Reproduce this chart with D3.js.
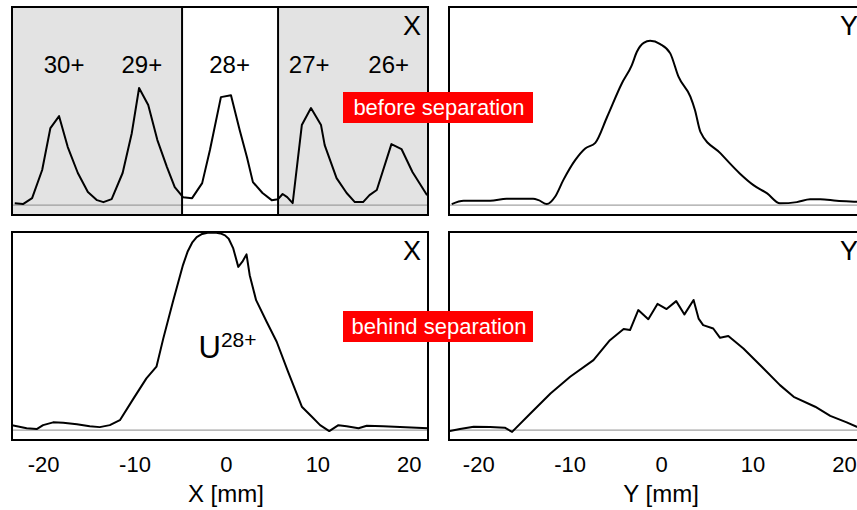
<!DOCTYPE html>
<html>
<head>
<meta charset="utf-8">
<script src="https://cdn.jsdelivr.net/npm/d3@7"></script>
<style>
  body { margin: 0; background: #fff; }
  svg { display: block; font-family: "Liberation Sans", Arial, sans-serif; }
</style>
</head>
<body>
<svg id="chart" width="857" height="510"></svg>
<script>
// profiles: [position in mm, intensity in arbitrary units]
const beforeX = [
  [-23.1, 0.9], [-22.2, 0.5], [-21.2, 3.5], [-20.1, 17.7], [-19.2, 38.9], [-18.25, 44.9],
  [-17.3, 29.3], [-16.2, 16.2], [-15.1, 6.6], [-14.1, 2.5], [-13.4, 1.5], [-12.5, 3.0],
  [-11.3, 16.2], [-10.3, 36.3], [-9.5, 59.1], [-8.5, 50.5], [-7.5, 32.8], [-6.45, 19.2],
  [-5.6, 9.1], [-4.7, 4.0], [-3.7, 3.5], [-2.6, 11.1], [-1.75, 27.8], [-0.55, 54.5],
  [0.55, 55.5], [1.5, 37.9], [2.3, 24.2], [2.95, 11.6], [4.0, 6.1], [5.0, 2.5],
  [5.7, 3.0], [6.2, 5.6], [6.7, 4.0], [7.3, 1.0], [8.3, 40.4], [9.3, 49.0],
  [10.4, 40.4], [10.8, 30.3], [12.1, 13.6], [13.2, 6.1], [14.1, 1.5], [15.0, 1.5],
  [15.7, 5.0], [16.5, 7.6], [18.1, 30.8], [19.2, 28.3], [20.4, 16.7], [22.0, 5.0]
];
const beforeY = [
  [-22.9, 0.5], [-21.6, 2.2], [-18.7, 2.2], [-16.9, 3.2], [-14.0, 3.2], [-13.4, 2.5],
  [-12.5, 0.5], [-11.6, 4.2], [-10.7, 12.6], [-9.4, 22.7], [-8.3, 28.6], [-7.2, 31.4],
  [-5.9, 44.6], [-4.3, 61.4], [-3.2, 70.7], [-2.65, 77.4], [-1.9, 81.9], [-1.2, 82.9],
  [-0.1, 81.3], [1.0, 76.6], [1.9, 64.8], [3.2, 54.7], [3.7, 48.0], [4.3, 37.0],
  [6.5, 26.1], [8.6, 16.0], [10.1, 10.1], [11.6, 5.9], [13.0, 0.9], [14.85, 1.5],
  [16.3, 2.9], [17.4, 2.9], [19.2, 2.2], [21.4, 1.7], [22.3, 1.5]
];
const behindX = [
  [-23.4, 2.5], [-21.8, 0.9], [-20.7, 0.5], [-20.0, 2.5], [-18.9, 3.9], [-17.8, 3.7],
  [-16.3, 2.9], [-14.9, 1.9], [-13.8, 1.5], [-12.7, 2.5], [-11.6, 5.0], [-10.1, 16.0],
  [-8.7, 26.1], [-7.6, 32.0], [-6.85, 46.3], [-5.8, 64.8], [-4.7, 83.3], [-4.2, 90.0],
  [-3.7, 94.6], [-3.2, 97.4], [-2.6, 99.0], [-2.0, 99.6], [-1.2, 99.7], [-0.6, 99.3],
  [-0.1, 98.3], [0.3, 96.6], [0.8, 91.7], [1.35, 82.4], [1.8, 85.0], [2.25, 88.7],
  [2.6, 78.2], [3.3, 65.6], [4.45, 54.7], [5.55, 44.6], [6.8, 29.4], [8.3, 11.8],
  [9.4, 6.7], [10.3, 2.5], [11.3, -0.5], [12.3, 2.5], [13.2, 1.9], [14.5, 0.9],
  [15.4, 2.2], [17.2, 1.9], [22.1, 0.9]
];
const behindY = [
  [-23.1, -0.5], [-22.0, 0.5], [-20.5, 1.7], [-18.7, 1.5], [-17.1, 1.2], [-16.3, -0.9],
  [-14.3, 8.4], [-12.1, 18.5], [-9.95, 26.9], [-7.4, 35.3], [-5.6, 45.4], [-4.1, 51.0],
  [-3.4, 50.5], [-2.5, 60.6], [-1.4, 56.0], [-0.4, 63.7], [0.6, 61.1], [1.65, 65.1],
  [2.55, 58.4], [3.55, 65.7], [4.1, 56.3], [4.6, 53.0], [5.7, 51.3], [6.45, 46.6],
  [7.35, 47.5], [9.0, 41.2], [11.2, 31.1], [13.0, 22.7], [14.5, 16.8], [16.85, 11.8],
  [18.5, 7.2], [20.3, 3.9], [21.4, 1.7], [22.3, 1.0]
];

const chargeLabels = ["30+", "29+", "28+", "27+", "26+"];
const chargeLabelPos = [-17.7, -9.2, 0.4, 9.1, 17.8];
const selectEdges = [-4.8, 5.7];   // slit around the 28+ peak
const tickValues = [-20, -10, 0, 10, 20];
const xDomainX = [-23.4, 22.1];
const xDomainY = [-23.2, 22.3];
const yDomain = [-5, 100];

const svg = d3.select("#chart");
const W = 416, H = 208;

const panels = [
  { id: "tl", x: 12,  y: 7,   data: beforeX, name: "X", dom: xDomainX, curve: d3.curveLinear },
  { id: "tr", x: 449, y: 7,   data: beforeY, name: "Y", dom: xDomainY, curve: d3.curveMonotoneX },
  { id: "bl", x: 12,  y: 232, data: behindX, name: "X", dom: xDomainX, curve: d3.curveLinear, axis: "X [mm]" },
  { id: "br", x: 449, y: 232, data: behindY, name: "Y", dom: xDomainY, curve: d3.curveLinear, axis: "Y [mm]" }
];

const yScale = d3.scaleLinear().domain(yDomain).range([H, 0]);

panels.forEach(p => {
  const xScale = d3.scaleLinear().domain(p.dom).range([0, W]);
  const g = svg.append("g").attr("transform", `translate(${p.x},${p.y})`);

  svg.append("clipPath").attr("id", "clip-" + p.id)
    .append("rect").attr("width", W).attr("height", H);

  const inner = g.append("g").attr("clip-path", `url(#clip-${p.id})`);

  if (p.id === "tl") {
    // shaded regions outside the selected charge state
    inner.append("rect").attr("x", 0).attr("y", 0)
      .attr("width", xScale(selectEdges[0])).attr("height", H).attr("fill", "#e3e3e3");
    inner.append("rect").attr("x", xScale(selectEdges[1])).attr("y", 0)
      .attr("width", W - xScale(selectEdges[1])).attr("height", H).attr("fill", "#e3e3e3");
  }

  // zero line
  inner.append("line")
    .attr("x1", 0).attr("x2", W)
    .attr("y1", yScale(0)).attr("y2", yScale(0))
    .attr("stroke", "#8c8c8c").attr("stroke-width", 1);

  const line = d3.line().x(d => xScale(d[0])).y(d => yScale(d[1])).curve(p.curve);
  inner.append("path").datum(p.data)
    .attr("d", line)
    .attr("fill", "none").attr("stroke", "#000").attr("stroke-width", 2)
    .attr("stroke-linejoin", "round");

  if (p.id === "tl") {
    selectEdges.forEach(e => {
      g.append("line").attr("x1", xScale(e)).attr("x2", xScale(e))
        .attr("y1", 0).attr("y2", H).attr("stroke", "#000").attr("stroke-width", 2);
    });
    g.selectAll("text.charge").data(chargeLabels).join("text")
      .attr("class", "charge")
      .attr("x", (d, i) => xScale(chargeLabelPos[i]))
      .attr("y", 66)
      .attr("text-anchor", "middle")
      .attr("font-size", 24)
      .text(d => d);
  }

  // frame
  g.append("rect").attr("width", W).attr("height", H)
    .attr("fill", "none").attr("stroke", "#000").attr("stroke-width", 2);

  g.append("text")
    .attr("x", W - 7).attr("y", 28)
    .attr("text-anchor", "end")
    .attr("font-size", 27)
    .text(p.name);

  if (p.axis) {
    const ax = g.append("g").attr("transform", `translate(0,${H})`)
      .call(d3.axisBottom(xScale).tickValues(tickValues).tickSize(0).tickPadding(16)
        .tickFormat(d => String(d)));
    ax.select(".domain").remove();
    ax.selectAll("text").attr("font-size", 22).attr("font-family", null).attr("fill", "#000");

    g.append("text")
      .attr("x", xScale(0)).attr("y", H + 62)
      .attr("text-anchor", "middle")
      .attr("font-size", 24)
      .text(p.axis);
  }

  if (p.id === "bl") {
    const t = g.append("text").attr("x", xScale(-3.0)).attr("y", 126).attr("font-size", 31);
    t.append("tspan").text("U");
    t.append("tspan").attr("dy", -11).attr("font-size", 21).text("28+");
  }
});

// red annotation boxes
const notes = [
  { text: "before separation", y: 92 },
  { text: "behind separation", y: 311 }
];
notes.forEach(n => {
  const ng = svg.append("g").attr("transform", `translate(343,${n.y})`);
  ng.append("rect").attr("width", 190).attr("height", 31).attr("fill", "#ff0000");
  ng.append("text").attr("x", 96).attr("y", 23)
    .attr("text-anchor", "middle").attr("font-size", 22).attr("fill", "#fff")
    .text(n.text);
});
</script>
</body>
</html>
